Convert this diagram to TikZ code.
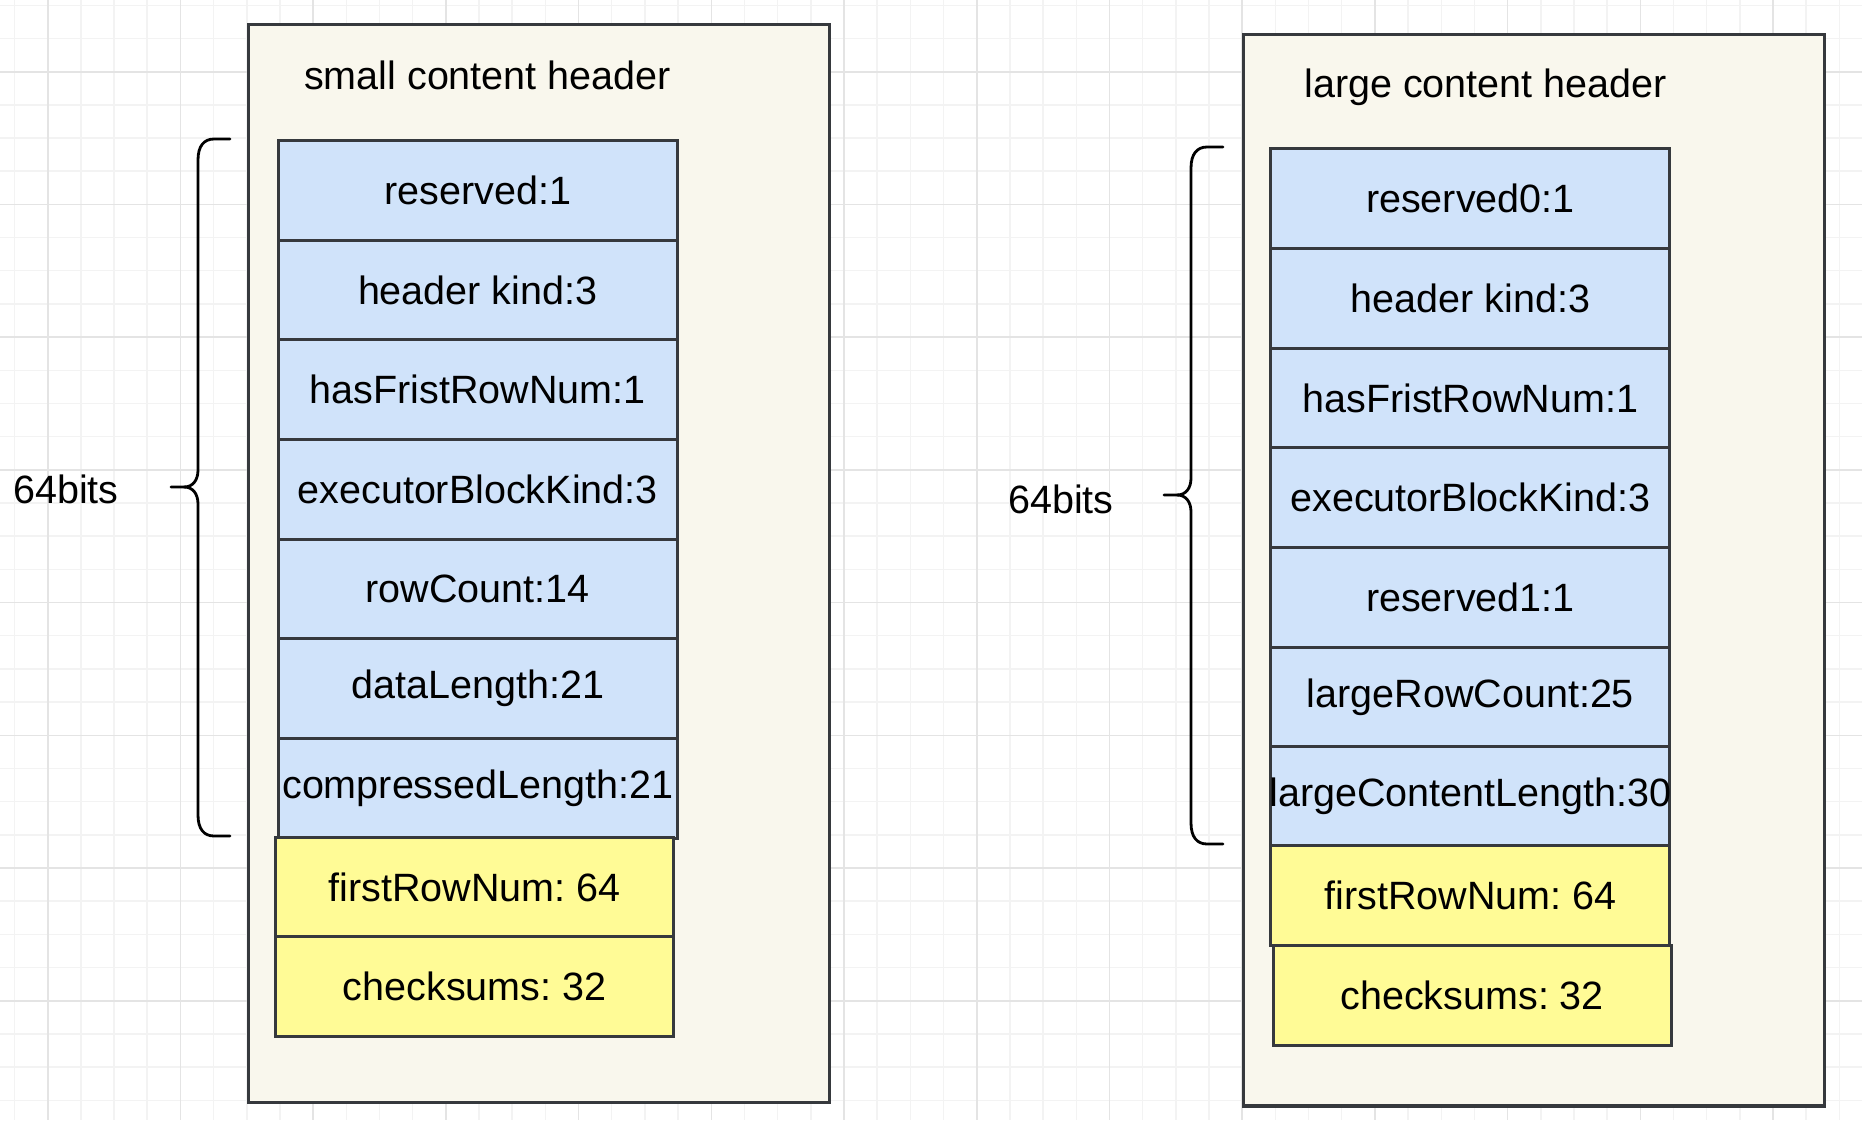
\documentclass[tikz,border=0pt]{standalone}
\usepackage{fontspec}
\setmainfont{Liberation Sans}
\frenchspacing
\definecolor{gridminor}{HTML}{F3F3F3}
\definecolor{gridmajor}{HTML}{E4E4E4}
\definecolor{boxfill}{HTML}{F9F7ED}
\definecolor{boxline}{HTML}{36393D}
\definecolor{bluefill}{HTML}{D0E3FA}
\definecolor{yellowfill}{HTML}{FFFB96}
\newcommand{\zw}[1]{\makebox[0pt][c]{#1}}
\begin{document}
\begin{tikzpicture}[x=1pt,y=-1pt,
  txt/.style={font=\fontsize{39.5}{47}\selectfont, text=black, inner sep=0pt},
  outerbox/.style={draw=boxline, fill=boxfill, line width=3.2pt, anchor=north west, inner sep=0pt},
  bluecell/.style={draw=boxline, fill=bluefill, line width=3pt, anchor=north west, inner sep=0pt, minimum width=399pt, minimum height=99.7pt, font=\fontsize{39.5}{47}\selectfont},
  yellowcell/.style={draw=boxline, fill=yellowfill, line width=3pt, anchor=north west, inner sep=0pt, minimum width=398pt, minimum height=99.7pt, font=\fontsize{39.5}{47}\selectfont},
  bracestyle/.style={draw=black, line width=2.8pt, line cap=round}
]
\useasboundingbox (0,0) rectangle (1862,1120);
\fill[white] (0,0) rectangle (1862,1120);
% grid
\foreach \i in {0,...,56} {
  \draw[gridminor, line width=1.5pt] ({14.5+33.18*\i},0) -- ({14.5+33.18*\i},1120);
}
\foreach \i in {0,...,34} {
  \draw[gridminor, line width=1.5pt] (0,{5.3+33.18*\i}) -- (1862,{5.3+33.18*\i});
}
\foreach \i in {0,...,14} {
  \draw[gridmajor, line width=1.6pt] ({47.7+132.72*\i},0) -- ({47.7+132.72*\i},1120);
}
\foreach \i in {0,...,8} {
  \draw[gridmajor, line width=1.6pt] (0,{71.7+132.72*\i}) -- (1862,{71.7+132.72*\i});
}

% ---------- left: small content header ----------
\node[outerbox, minimum width=580.7pt, minimum height=1078.2pt] (lbox) at (247,22.6) {};
\node[txt] (ltitle) at (487.5,75) {small content header};
\node[bluecell] (l1) at (276.7,138.9) {\zw{reserved:1}};
\node[bluecell] (l2) at (276.7,238.6) {\zw{header kind:3}};
\node[bluecell] (l3) at (276.7,338.3) {\zw{hasFristRowNum:1}};
\node[bluecell] (l4) at (276.7,438.0) {\zw{executorBlockKind:3}};
\node[bluecell] (l5) at (276.7,537.7) {\zw{rowCount:14}};
\node[bluecell] (l6) at (276.7,637.4) {\zw{dataLength:21}};
\node[bluecell] (l7) at (276.7,737.1) {\zw{compressedLength:21}};
\node[yellowcell, minimum width=397.8pt] (l8) at (274.3,836.0) {\zw{firstRowNum: 64}};
\node[yellowcell, minimum width=397.8pt] (l9) at (274.3,935.0) {\zw{checksums: 32}};
\node[txt] (lbits) at (66,489) {64bits};
\draw[bracestyle] (230,139) -- (214,139) .. controls (204,139) and (198,146) .. (198,160)
  -- (198,470) .. controls (198,480) and (193,487) .. (184,487) -- (171,487);
\draw[bracestyle] (184,487) .. controls (193,487) and (198,494) .. (198,504)
  -- (198,815) .. controls (198,829) and (204,836) .. (214,836) -- (230,836);

% ---------- right: large content header ----------
\node[outerbox, minimum width=580.7pt, minimum height=1071.2pt] (rbox) at (1242.1,33.2) {};
\node[txt] (rtitle) at (1485.6,87.5) {large content header};
\node[bluecell] (r1) at (1269.4,147.2) {\zw{reserved0:1}};
\node[bluecell] (r2) at (1269.4,246.9) {\zw{header kind:3}};
\node[bluecell] (r3) at (1269.4,346.6) {\zw{hasFristRowNum:1}};
\node[bluecell] (r4) at (1269.4,446.3) {\zw{executorBlockKind:3}};
\node[bluecell] (r5) at (1269.4,546.0) {\zw{reserved1:1}};
\node[bluecell] (r6) at (1269.4,645.7) {\zw{largeRowCount:25}};
\node[bluecell] (r7) at (1269.4,745.4) {\zw{largeContentLength:30}};
\node[yellowcell, minimum width=399pt] (r8) at (1269.4,844.3) {\zw{firstRowNum: 64}};
\node[yellowcell, minimum width=397.8pt] (r9) at (1271.8,944.0) {\zw{checksums: 32}};
\node[txt] (rbits) at (1061,499) {64bits};
\draw[bracestyle] (1223,147) -- (1207,147) .. controls (1197,147) and (1191,154) .. (1191,168)
  -- (1191,478) .. controls (1191,488) and (1186,495) .. (1177,495) -- (1164,495);
\draw[bracestyle] (1177,495) .. controls (1186,495) and (1191,502) .. (1191,512)
  -- (1191,823) .. controls (1191,837) and (1197,844) .. (1207,844) -- (1223,844);
\end{tikzpicture}
\end{document}
